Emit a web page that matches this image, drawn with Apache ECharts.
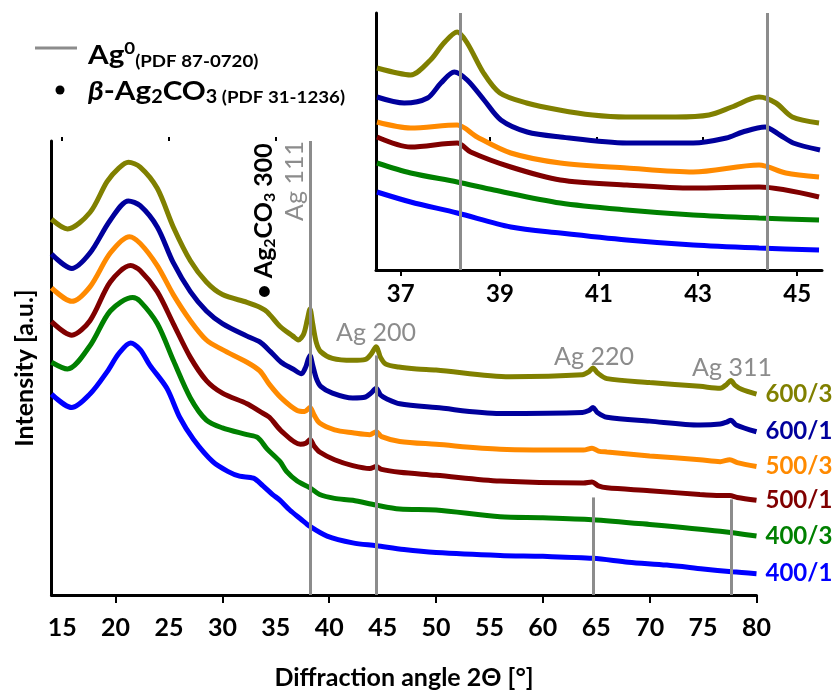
<!DOCTYPE html>
<html>
<head>
<meta charset="utf-8">
<script src="https://cdn.jsdelivr.net/npm/echarts@6/dist/echarts.min.js"></script>
<style>
  html, body { margin: 0; padding: 0; background: #fff; }
  #main { width: 840px; height: 695px; }
</style>
</head>
<body>
<div id="main"></div>
<script>
// sample names, top to bottom
var sampleNames = ['600/3', '600/1', '500/3', '500/1', '400/3', '400/1'];
var sampleColors = ['#808000', '#00009c', '#ff8a00', '#800000', '#008000', '#0000ff'];

// main pattern, [2theta, intensity a.u.] (stacked offsets already included)
var main_600_3 = [[14.0,389],[15.5,379],[17.6,396],[19.2,428],[20.3,442],[21.2,448],[22.3,443],[23.9,421],[25.4,381],[27.0,346],[28.5,324],[30.0,311],[32.3,303],[33.5,298],[34.2,293],[35.4,278],[36.6,268],[37.1,264],[37.6,270],[37.95,285],[38.2,296],[38.45,281],[38.8,261],[39.2,252],[40.3,245],[42.2,243],[43.4,244],[43.9,249],[44.4,257],[44.8,246],[45.3,239],[46.5,236],[48.2,234],[50.0,233],[56.9,226],[63.7,228],[64.3,231],[64.7,235],[65.1,230],[66.0,224],[70.0,220],[74.7,216],[76.6,214],[77.2,218],[77.6,222],[78.0,217],[78.6,213],[80.0,208]];
var main_600_1 = [[14.0,353],[15.9,338],[17.6,354],[19.5,388],[21.2,408],[22.3,403],[23.9,381],[25.4,344],[27.0,314],[28.5,294],[30.0,281],[32.3,268],[33.5,262],[34.5,252],[35.5,241],[36.6,234],[37.4,229],[37.8,236],[38.0,243],[38.2,248],[38.45,238],[38.8,224],[39.2,216],[40.3,209],[42.2,204],[43.4,205],[43.9,209],[44.4,214],[44.8,207],[45.4,203],[46.6,198],[50.0,194],[56.0,188],[63.7,189],[64.3,191],[64.7,194],[65.1,189],[66.0,184],[70.0,180],[74.7,176],[76.6,177],[77.2,179],[77.6,181],[78.1,176],[80.0,169]];
var main_500_3 = [[14.0,318],[15.9,304],[17.6,319],[19.5,354],[21.3,371],[22.3,364],[23.9,341],[25.4,311],[27.0,284],[28.5,264],[30.0,254],[32.3,241],[33.5,232],[34.4,218],[35.5,204],[37.0,191],[37.7,190],[38.2,194],[38.6,186],[39.1,178],[40.5,171],[42.2,168],[43.8,166],[44.4,169],[44.9,164],[46.6,159],[50.0,156],[56.0,151],[63.8,150],[64.6,152],[65.2,149],[66.0,148],[70.0,144],[74.7,140],[76.6,138],[77.5,140],[78.2,137],[80.0,133]];
var main_500_1 = [[14.0,283],[15.9,269],[17.6,284],[19.5,324],[21.4,341],[22.3,336],[23.9,314],[25.4,281],[27.0,246],[28.5,222],[30.0,209],[32.3,198],[33.5,190],[34.4,184],[35.5,170],[37.3,156],[37.8,157],[38.2,161],[38.6,154],[39.1,148],[40.5,140],[42.2,134],[43.8,131],[44.4,133],[44.9,130],[46.6,127],[50.0,124],[56.0,118],[63.8,116],[64.6,117],[65.2,113],[66.0,111],[70.0,108],[74.7,104],[76.6,103],[77.5,103],[78.2,101],[80.0,98]];
var main_400_3 = [[14.0,241],[15.5,234],[17.6,258],[19.5,294],[21.6,308],[22.3,304],[23.9,281],[25.4,243],[27.0,204],[28.5,181],[30.0,173],[32.3,166],[33.3,163],[34.2,151],[35.4,138],[36.0,128],[37.0,118],[38.2,111],[39.1,104],[40.5,100],[42.2,98],[44.4,93],[46.6,89],[50.0,88],[56.0,81],[60.0,80],[64.6,78],[70.0,73],[76.6,66],[80.0,61]];
var main_400_1 = [[14.0,208],[15.9,194],[17.6,208],[19.2,231],[20.3,250],[21.4,261],[22.3,254],[23.2,238],[24.8,214],[26.0,184],[27.3,161],[29.1,138],[30.5,128],[31.6,123],[32.9,121],[33.8,113],[34.7,104],[35.4,98],[36.3,88],[37.3,79],[38.2,71],[39.8,61],[42.2,54],[44.4,51],[47.0,47],[50.0,44],[56.0,41],[60.0,40],[64.7,38],[68.0,34],[71.6,31],[75.0,27],[77.7,24],[80.0,22]];

// inset, 36.5 - 45.5 deg
var inset_600_3 = [[36.52,202],[36.93,197],[37.2,195],[37.6,210],[37.87,227],[38.14,238],[38.34,227],[38.67,197],[39.0,177],[39.54,167],[40.2,160],[40.87,155],[41.54,153],[42.55,153],[43.22,155],[43.68,163],[44.23,173],[44.57,167],[44.9,153],[45.44,147]];
var inset_600_1 = [[36.52,173],[37.07,167],[37.54,172],[37.81,187],[38.08,198],[38.34,190],[38.68,170],[39.02,150],[39.55,138],[40.22,133],[41.56,127],[42.9,127],[43.57,132],[43.9,138],[44.35,143],[44.65,135],[44.92,127],[45.46,120]];
var inset_500_3 = [[36.52,148],[37.2,142],[38.14,145],[38.54,133],[39.22,117],[40.22,107],[41.56,102],[42.9,98],[44.23,105],[44.77,97],[45.44,93]];
var inset_500_1 = [[36.52,133],[37.2,123],[38.14,127],[38.41,118],[39.22,103],[40.22,90],[41.56,85],[42.9,82],[44.23,83],[45.44,73]];
var inset_400_3 = [[36.52,107],[37.2,97],[38.14,88],[38.88,80],[40.22,67],[41.56,60],[42.9,55],[44.23,52],[45.44,50]];
var inset_400_1 = [[36.52,78],[37.2,68],[38.14,57],[39.22,43],[40.22,37],[41.56,30],[42.9,25],[44.23,22],[45.44,20]];

var mainData = [main_600_3, main_600_1, main_500_3, main_500_1, main_400_3, main_400_1];
var insetData = [inset_600_3, inset_600_1, inset_500_3, inset_500_1, inset_400_3, inset_400_1];

// Ag reference lines (2theta) and how high they reach in the main plot
var agPeaks = [38.2, 44.4, 64.7, 77.6];
var agLineTops = [470, 248, 101, 99];
var insetPeaks = [38.2, 44.4];

var mainTicks = [15, 20, 25, 30, 35, 40, 45, 50, 55, 60, 65, 70, 75, 80];
var mainMajorTicks = [20, 30, 40, 50, 60, 70, 80];
var mainMinorTicks = [15, 25, 35, 45, 55, 65, 75];
var insetTicks = [37, 39, 41, 43, 45];

var FONT = 'Lato';
var GRAY = '#8c8c8c';

var myChart = echarts.init(document.getElementById('main'));

var series = [];
// reference lines behind the curves
series.push({
    type: 'line', xAxisIndex: 0, yAxisIndex: 0, data: [], z: 1, silent: true,
    markLine: {
        silent: true, symbol: ['none', 'none'], label: { show: false },
        lineStyle: { color: GRAY, width: 3, type: 'solid' },
        data: agPeaks.map(function(p, i) {
            return [{ coord: [p, 0] }, { coord: [p, agLineTops[i]] }];
        })
    }
});
series.push({
    type: 'line', xAxisIndex: 2, yAxisIndex: 1, data: [], z: 1, silent: true,
    markLine: {
        silent: true, symbol: ['none', 'none'], label: { show: false },
        lineStyle: { color: GRAY, width: 3, type: 'solid' },
        data: insetPeaks.map(function(p) { return { xAxis: p }; })
    }
});

sampleNames.forEach(function(name, i) {
    series.push({
        name: name, type: 'line', xAxisIndex: 0, yAxisIndex: 0,
        data: mainData[i], showSymbol: false, symbol: 'none', z: 3, smooth: 0.3,
        lineStyle: { color: sampleColors[i], width: 5 },
        endLabel: {
            show: true, formatter: name, distance: 9,
            color: sampleColors[i], fontFamily: FONT, fontWeight: 'bold', fontSize: 24
        }
    });
    series.push({
        name: name + ' inset', type: 'line', xAxisIndex: 2, yAxisIndex: 1,
        data: insetData[i], showSymbol: false, symbol: 'none', z: 3, smooth: 0.3,
        lineStyle: { color: sampleColors[i], width: 5 }
    });
});

var option = {
    animation: false,
    backgroundColor: '#fff',
    textStyle: { fontFamily: FONT },
    grid: [
        { left: 51.5, right: 83.5, top: 141, bottom: 84 },
        { left: 376, right: 18, top: 13, bottom: 425, backgroundColor: '#fff', show: true, borderWidth: 0 }
    ],
    xAxis: [
        {
            type: 'value', gridIndex: 0, min: 14, max: 80,
            name: 'Diffraction angle 2\u0398 [\u00b0]', nameLocation: 'middle', nameGap: 70,
            nameTextStyle: { fontFamily: FONT, fontWeight: 'bold', fontSize: 25, color: '#000' },
            axisLine: { lineStyle: { color: '#000', width: 3 } },
            axisTick: { show: true, inside: false, length: 8, customValues: mainMajorTicks, lineStyle: { color: '#000', width: 2 } },
            axisLabel: {
                customValues: mainTicks, fontFamily: FONT, fontWeight: 'bold', fontSize: 25, color: '#000', margin: 20,
                alignMinLabel: 'center', alignMaxLabel: 'center', hideOverlap: false
            },
            splitLine: { show: false }
        },
        {
            // short ticks at the odd fives
            type: 'value', gridIndex: 0, min: 14, max: 80,
            axisLine: { show: false },
            axisTick: { show: true, inside: false, length: 4, customValues: mainMinorTicks, lineStyle: { color: '#000', width: 2 } },
            axisLabel: { show: false }, splitLine: { show: false }
        },
        {
            type: 'value', gridIndex: 1, min: 36.5, max: 45.5,
            axisLine: { lineStyle: { color: '#000', width: 3 } },
            axisTick: { show: true, inside: false, length: 6, customValues: insetTicks, lineStyle: { color: '#000', width: 2 } },
            axisLabel: {
                customValues: insetTicks, fontFamily: FONT, fontWeight: 'bold', fontSize: 24, color: '#000', margin: 12,
                alignMinLabel: 'center', alignMaxLabel: 'center'
            },
            splitLine: { show: false }
        }
    ],
    yAxis: [
        {
            type: 'value', gridIndex: 0, min: 0, max: 470,
            name: 'Intensity [a.u.]', nameLocation: 'middle', nameGap: 14,
            nameTextStyle: { fontFamily: FONT, fontWeight: 'bold', fontSize: 25, color: '#000' },
            axisLine: { show: true, lineStyle: { color: '#000', width: 3 } },
            axisTick: { show: false }, axisLabel: { show: false }, splitLine: { show: false }
        },
        {
            type: 'value', gridIndex: 1, min: 0, max: 257,
            axisLine: { show: true, lineStyle: { color: '#000', width: 3 } },
            axisTick: { show: false }, axisLabel: { show: false }, splitLine: { show: false }
        }
    ],
    graphic: [
        // legend
        { type: 'line', shape: { x1: 35, y1: 48, x2: 77, y2: 48 }, style: { stroke: GRAY, lineWidth: 3 } },
        {
            type: 'text', x: 88, y: 40, scaleX: 1.1,
            style: {
                text: '{a|Ag}{sup|0}{sub|(PDF 87-0720)}', verticalAlign: 'top',
                rich: {
                    a: { fontFamily: FONT, fontWeight: 'bold', fontSize: 27, lineHeight: 30, fill: '#000' },
                    sup: { fontFamily: FONT, fontWeight: 'bold', fontSize: 17, lineHeight: 12, verticalAlign: 'top', fill: '#000' },
                    sub: { fontFamily: FONT, fontWeight: 'bold', fontSize: 17, lineHeight: 8, verticalAlign: 'bottom', fill: '#000' }
                }
            }
        },
        { type: 'circle', shape: { cx: 60, cy: 90, r: 4.5 }, style: { fill: '#000' } },
        {
            type: 'text', x: 88, y: 76, scaleX: 1.1,
            style: {
                text: '{bi|\u03b2}{a|-Ag}{s|2}{a|CO}{s|3}{p| (PDF 31-1236)}', verticalAlign: 'top',
                rich: {
                    bi: { fontFamily: FONT, fontWeight: 'bold', fontStyle: 'italic', fontSize: 27, lineHeight: 30, fill: '#000' },
                    a: { fontFamily: FONT, fontWeight: 'bold', fontSize: 27, lineHeight: 30, fill: '#000' },
                    s: { fontFamily: FONT, fontWeight: 'bold', fontSize: 18, lineHeight: 14, verticalAlign: 'bottom', fill: '#000' },
                    p: { fontFamily: FONT, fontWeight: 'bold', fontSize: 17, lineHeight: 17, verticalAlign: 'bottom', fill: '#000' }
                }
            }
        },
        // peak annotations
        {
            type: 'text', x: 295, y: 181, rotation: Math.PI / 2,
            style: { text: 'Ag 111', fontFamily: FONT, fontSize: 25, fill: GRAY, align: 'center', verticalAlign: 'middle' }
        },
        {
            type: 'text', x: 264, y: 221, rotation: Math.PI / 2,
            style: {
                text: '{a|\u2022 Ag}{s|2}{a|CO}{s|3}{a| 300}', align: 'center', verticalAlign: 'middle',
                rich: {
                    a: { fontFamily: FONT, fontWeight: 'bold', fontSize: 25, lineHeight: 28, fill: '#000' },
                    s: { fontFamily: FONT, fontWeight: 'bold', fontSize: 16, lineHeight: 12, verticalAlign: 'bottom', fill: '#000' }
                }
            }
        },
        { type: 'text', x: 376, y: 333, style: { text: 'Ag 200', fontFamily: FONT, fontSize: 25, fill: GRAY, align: 'center', verticalAlign: 'middle' } },
        { type: 'text', x: 594, y: 357, style: { text: 'Ag 220', fontFamily: FONT, fontSize: 25, fill: GRAY, align: 'center', verticalAlign: 'middle' } },
        { type: 'text', x: 732, y: 368, style: { text: 'Ag 311', fontFamily: FONT, fontSize: 25, fill: GRAY, align: 'center', verticalAlign: 'middle' } }
    ],
    series: series
};

myChart.setOption(option);
</script>
</body>
</html>
